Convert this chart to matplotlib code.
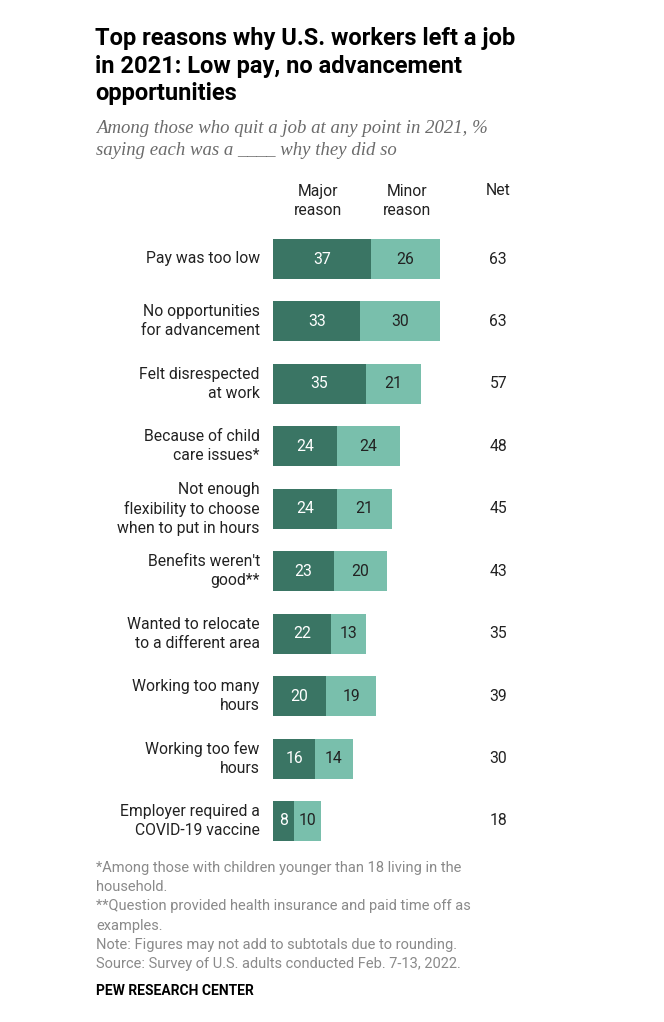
import matplotlib
matplotlib.use("Agg")
import matplotlib.pyplot as plt

categories = [
    "Pay was too low",
    "No opportunities\nfor advancement",
    "Felt disrespected\nat work",
    "Because of child\ncare issues*",
    "Not enough\nflexibility to choose\nwhen to put in hours",
    "Benefits weren't\ngood**",
    "Wanted to relocate\nto a different area",
    "Working too many\nhours",
    "Working too few\nhours",
    "Employer required a\nCOVID-19 vaccine",
]
major = [37, 33, 35, 24, 24, 23, 22, 20, 16, 8]
minor = [26, 30, 21, 24, 21, 20, 13, 19, 14, 10]
net = [63, 63, 57, 48, 45, 43, 35, 39, 30, 18]

DARK = "#3a7564"
LIGHT = "#79bfac"

W, H = 664, 1022
fig = plt.figure(figsize=(W / 100, H / 100), dpi=100)
plt.rcParams['font.family'] = ['Roboto', 'DejaVu Sans']

def fx(px):
    return px / W

def fy(py):
    return 1 - py / H

x0 = 273
ppu = 2.65
row0 = 259
rstep = 62.44
top = row0 - rstep * 0.5
bot = row0 + rstep * 9.5
ax_w = 100 * ppu
ax = fig.add_axes([fx(x0), fy(bot), ax_w / W, (bot - top) / H])
ax.set_xlim(0, 100)
ax.set_ylim(9.5, -0.5)
ax.axis("off")

ys = list(range(len(categories)))
bh = 40 / rstep
ax.barh(ys, major, height=bh, color=DARK, edgecolor="none")
ax.barh(ys, minor, left=major, height=bh, color=LIGHT, edgecolor="none")

lab_fs = 11.3
for i, (c, a, b, n) in enumerate(zip(categories, major, minor, net)):
    ax.text(a / 2, i, str(a), ha="center", va="center", color="white", fontsize=lab_fs)
    ax.text(a + b / 2, i, str(b), ha="center", va="center", color="#222222", fontsize=lab_fs)
    ax.text(85, i, str(n), ha="center", va="center", color="#222222", fontsize=lab_fs)
    ax.text(-5, i, c, ha="right", va="center", color="#222222", fontsize=lab_fs,
            multialignment="right", linespacing=1.33)

hy = -0.93
ax.text(17, hy, "Major\nreason", ha="center", va="center", color="#222222", fontsize=lab_fs, linespacing=1.35, clip_on=False)
ax.text(50.6, hy, "Minor\nreason", ha="center", va="center", color="#222222", fontsize=lab_fs, linespacing=1.35, clip_on=False)
ax.text(85, hy - 0.17, "Net", ha="center", va="center", color="#222222", fontsize=lab_fs, clip_on=False)

fig.text(fx(95), fy(27), "Top reasons why U.S. workers left a job\nin 2021: Low pay, no advancement\nopportunities",
         ha="left", va="top", fontsize=17, fontweight="bold", color="black", linespacing=1.26,
         family=['Roboto', 'DejaVu Sans'])
fig.text(fx(96), fy(120), "Among those who quit a job at any point in 2021, %\nsaying each was a ____ why they did so",
         ha="left", va="top", fontsize=13.5, style="italic", color="#6b6b6b", linespacing=1.38,
         family=['Liberation Serif'])

notes = ("*Among those with children younger than 18 living in the\nhousehold.\n"
         "**Question provided health insurance and paid time off as\nexamples.\n"
         "Note: Figures may not add to subtotals due to rounding.\n"
         "Source: Survey of U.S. adults conducted Feb. 7-13, 2022.")
fig.text(fx(96), fy(861), notes, ha="left", va="top", fontsize=10.5, color="#8a8a8a", linespacing=1.47)
fig.text(fx(96), fy(984), "PEW RESEARCH CENTER", ha="left", va="top", fontsize=10, fontweight="bold", color="black")

fig.savefig("out.png", dpi=100, facecolor="white")
